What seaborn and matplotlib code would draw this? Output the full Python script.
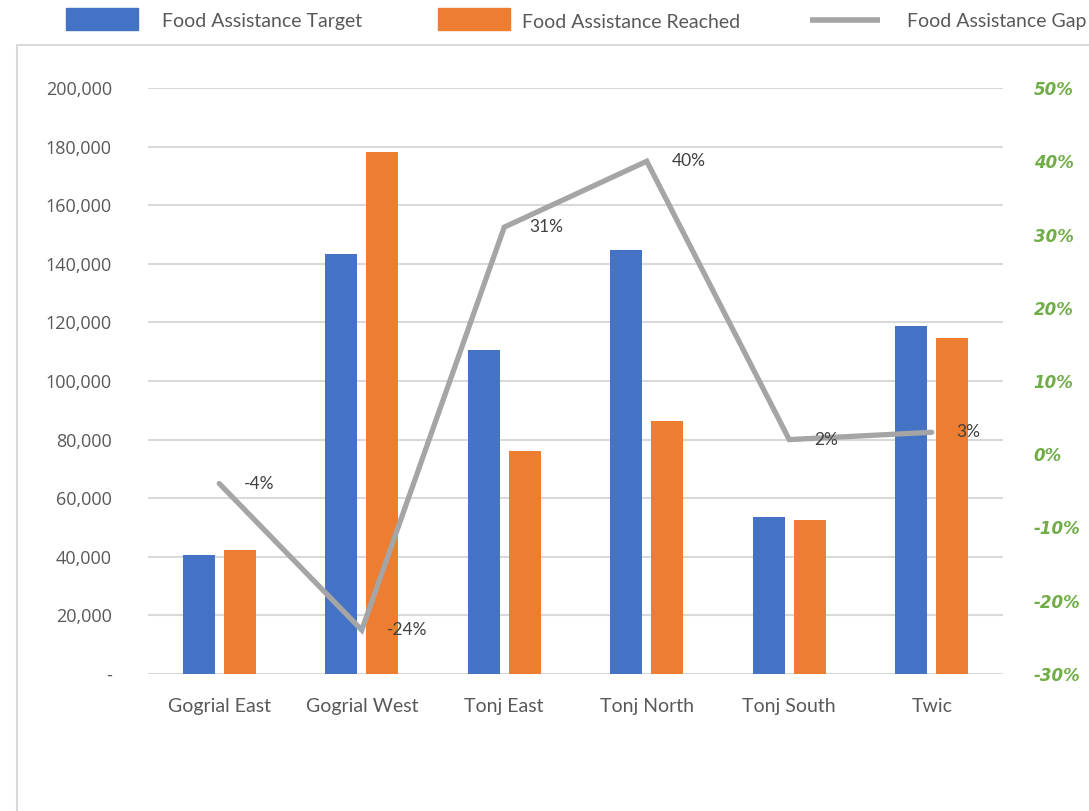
import numpy as np
import pandas as pd
import matplotlib
matplotlib.use("Agg")
import matplotlib.pyplot as plt
import matplotlib.patches as mpatches
import matplotlib.lines as mlines
from matplotlib.ticker import FuncFormatter
import seaborn as sns

# data
districts = ["Gogrial East", "Gogrial West", "Tonj East", "Tonj North", "Tonj South", "Twic"]
target = [40700, 143300, 110600, 144700, 53600, 118800]
reached = [42300, 178200, 76100, 86300, 52600, 114700]
gap = [-0.04, -0.24, 0.31, 0.40, 0.02, 0.03]
series = ["Food Assistance Target", "Food Assistance Reached"]
gap_name = "Food Assistance Gap"
left_ticks = [0, 20000, 40000, 60000, 80000, 100000, 120000, 140000, 160000, 180000, 200000]
right_ticks = [-0.3, -0.2, -0.1, 0.0, 0.1, 0.2, 0.3, 0.4, 0.5]

blue = "#4472C4"
orange = "#ED7D31"
grey = "#A5A5A5"
green = "#70AD47"

sns.set_style("white")
plt.rcParams["font.family"] = ["Open Sans", "DejaVu Sans"]

df = pd.DataFrame({
    "district": districts * 2,
    "value": target + reached,
    "series": [series[0]] * len(districts) + [series[1]] * len(districts),
})

fig = plt.figure(figsize=(10.89, 8.11), dpi=100)
ax = fig.add_axes([148 / 1089, 1 - 674 / 811, (1003 - 148) / 1089, (674 - 88) / 811])

sns.barplot(data=df, x="district", y="value", hue="series", hue_order=series,
            palette=[blue, orange], saturation=1, width=0.575, gap=0.22, linewidth=0,
            ax=ax, legend=False)

ax.set_ylim(0, 200000)
ax.set_yticks(left_ticks)
ax.yaxis.set_major_formatter(FuncFormatter(lambda v, p: "-" if v == 0 else f"{int(v):,}"))
ax.grid(axis="y", color="#D9D9D9", linewidth=1.5)
ax.set_axisbelow(True)
ax.set_xlabel("")
ax.set_ylabel("")
for s in ax.spines.values():
    s.set_visible(False)
ax.tick_params(axis="y", length=0, pad=26, labelsize=13, labelcolor="#595959")
ax.tick_params(axis="x", length=0, pad=17, labelsize=14, labelcolor="#595959")
for lab in ax.get_xticklabels():
    lab.set_fontfamily(["Lato", "DejaVu Sans"])

ax2 = ax.twinx()
sns.pointplot(x=districts, y=gap, ax=ax2, color=grey, markers="", linestyles="-",
              linewidth=3.8, solid_joinstyle="miter", errorbar=None)
ax2.set_ylim(-0.3, 0.5)
ax2.set_yticks(right_ticks)
ax2.yaxis.set_major_formatter(FuncFormatter(lambda v, p: f"{v:.0%}"))
ax2.tick_params(axis="y", length=0, pad=22, labelsize=12, labelcolor=green)
for lab in ax2.get_yticklabels():
    lab.set_fontfamily(["DejaVu Sans"])
    lab.set_fontweight("bold")
    lab.set_fontstyle("oblique")
for s in ax2.spines.values():
    s.set_visible(False)
ax2.grid(False)
ax2.set_xlim(-0.5, len(districts) - 0.5)
ax.set_xlim(-0.5, len(districts) - 0.5)

for i, v in enumerate(gap):
    ax2.annotate(f"{v:.0%}", (i, v), xytext=(18, 0), textcoords="offset points",
                 ha="left", va="center", fontsize=12.5, color="#404040",
                 family=["Lato", "DejaVu Sans"])

# outer chart-area border
fig.patches.append(mpatches.Rectangle((17 / 1089, -0.2), 2, 1.2 - 45 / 811,
                                      transform=fig.transFigure, fill=False,
                                      edgecolor="#D9D9D9", linewidth=1.5))

# legend across the top
leg_y = 1 - 20 / 811
fig.patches.append(mpatches.Rectangle((66 / 1089, 1 - 30 / 811), 72 / 1089, 22 / 811,
                                      transform=fig.transFigure, color=blue))
fig.patches.append(mpatches.Rectangle((438 / 1089, 1 - 30 / 811), 72 / 1089, 22 / 811,
                                      transform=fig.transFigure, color=orange))
fig.lines.append(mlines.Line2D([810 / 1089, 880 / 1089], [leg_y, leg_y],
                               transform=fig.transFigure, color=grey, linewidth=4,
                               solid_capstyle="butt"))
for xp, txt in [(162, series[0]), (522, series[1]), (907, gap_name)]:
    fig.text(xp / 1089, 1 - 22 / 811, txt, ha="left", va="center", fontsize=14,
             color="#595959", family=["Lato", "DejaVu Sans"])

fig.savefig("out.png", dpi=100)
